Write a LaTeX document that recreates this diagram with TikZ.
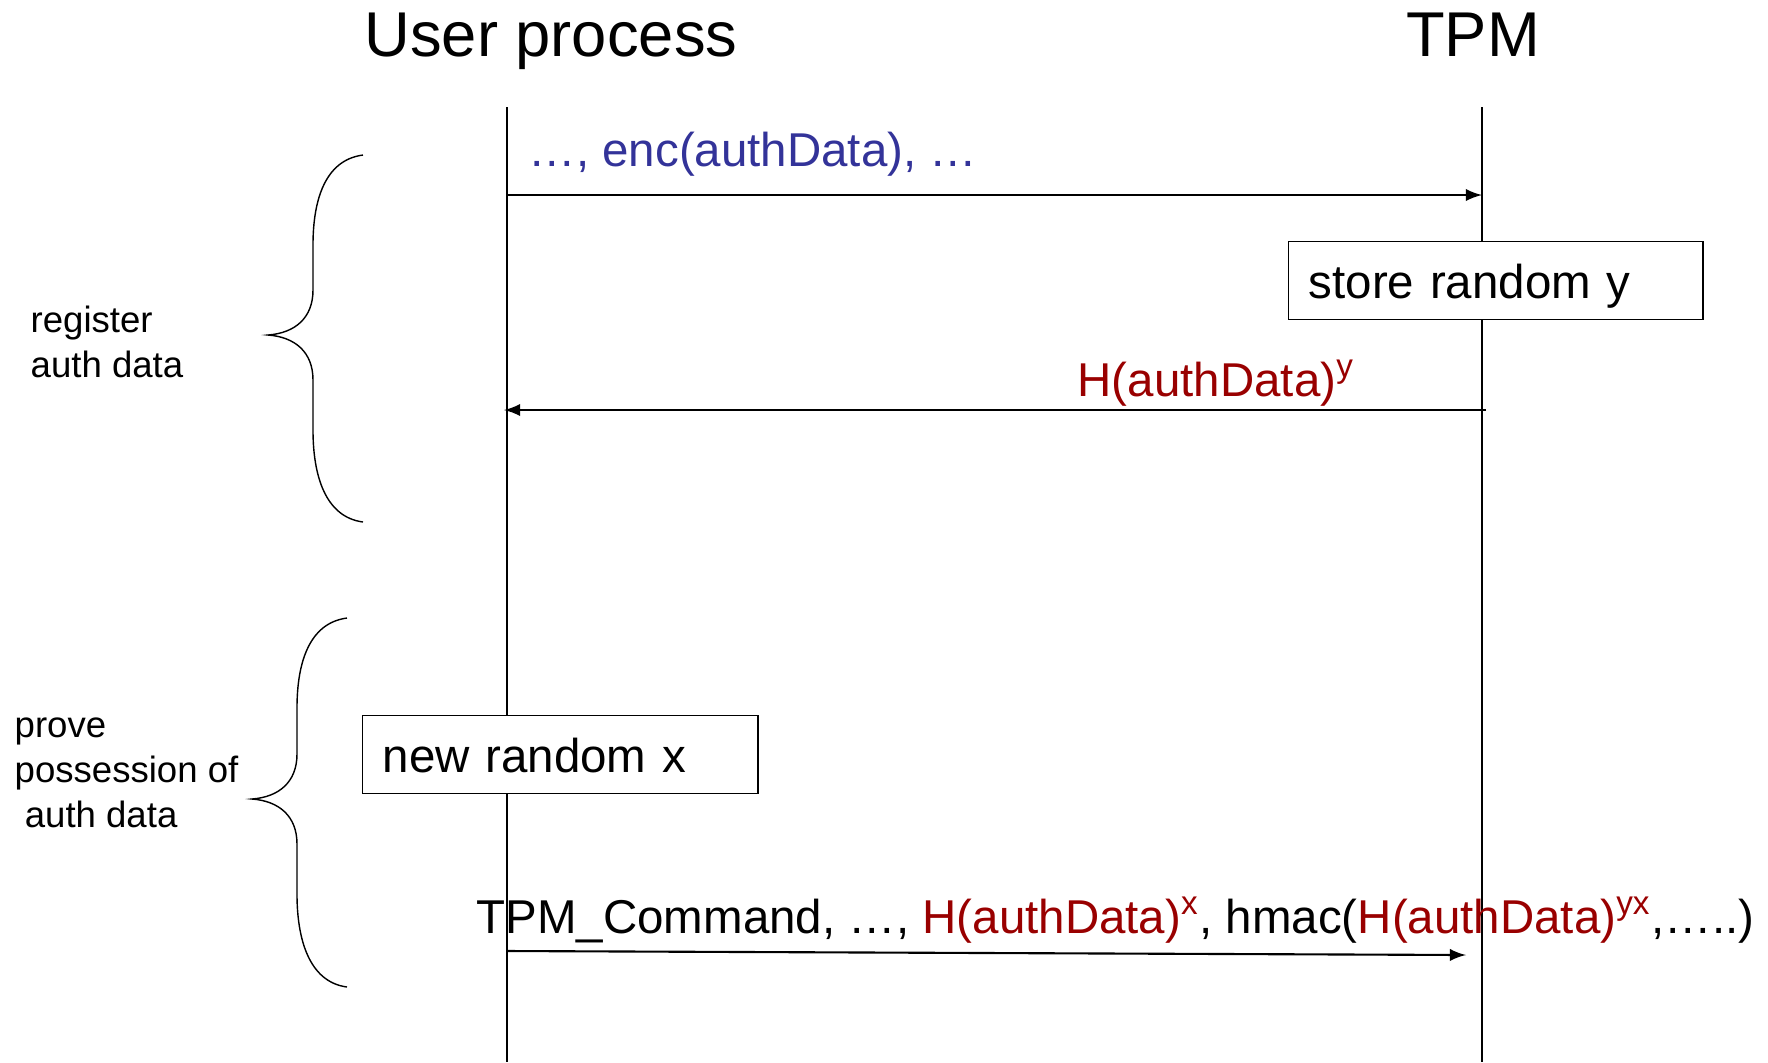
\documentclass[tikz,border=0pt]{standalone}
\usepackage{fontspec}
\setmainfont{Liberation Sans}
\usepackage{tikz}
\usetikzlibrary{shapes,arrows,positioning}
\usepackage{xcolor}
\definecolor{msgblue}{RGB}{51,51,153}
\definecolor{msgred}{RGB}{153,0,0}

\begin{document}
\begin{tikzpicture}[
    x=0.01cm, y=-0.01cm,
    actor/.style={font=\fontsize{18}{22}\selectfont, inner sep=0pt, anchor=base},
    msg/.style={font=\fontsize{13.5}{16}\selectfont, inner sep=0pt, anchor=base west},
    action/.style={rectangle, draw, fill=white, font=\fontsize{13.5}{16}\selectfont, align=left, inner xsep=0.2cm, inner ysep=0pt, minimum height=0.78cm, text height=0.46cm, text depth=0.1cm, anchor=north west},
    phase/.style={font=\fontsize{10.4}{12.8}\selectfont, align=left, anchor=west, inner sep=0pt},
    call/.style={-latex, semithick},
]
    \useasboundingbox (0,0) rectangle (1768,1062);

    % Actors
    \node[actor] (user) at (551,56) {User process};
    \node[actor] (tpm) at (1473,56) {TPM};

    % Lifelines
    \coordinate (userTop) at (507,107);
    \coordinate (userBot) at (507,1062);
    \coordinate (tpmTop) at (1482,107);
    \coordinate (tpmBot) at (1482,1062);
    \draw (userTop) -- (userBot);
    \draw (tpmTop) -- (tpmBot);

    % Register auth data
    \coordinate (regFrom) at (507,195);
    \coordinate (regTo) at (1482,195);
    \draw[call] (regFrom) -- (regTo);
    \node[msg, text=msgblue] (encmsg) at (528,166) {…, enc(authData), …};

    \node[action, text width=3.74cm] (store) at (1288,241) {store random y};

    \coordinate (ansFrom) at (1486,410);
    \coordinate (ansTo) at (504,410);
    \draw[call] (ansFrom) -- (ansTo);
    \node[msg, text=msgred] (hashy) at (1077,396) {H(authData)\textsuperscript{y}};

    % Prove possession
    \node[action, text width=3.55cm] (newx) at (362,715) {new random x};

    \coordinate (cmdFrom) at (507,951);
    \coordinate (cmdTo) at (1466,955);
    \draw[call] (cmdFrom) -- (cmdTo);
    \node[msg] (cmd) at (476,933) {TPM\_Command, …, \textcolor{msgred}{H(authData)\textsuperscript{x}}, hmac(\textcolor{msgred}{H(authData)\textsuperscript{yx}},…..)};

    % Phases
    \draw (363,155) .. controls (325,160) and (313,200) .. (313,245) -- (313,290)
        .. controls (313,318) and (295,333) .. (268,335)
        .. controls (295,337) and (313,352) .. (313,380) -- (313,430)
        .. controls (313,475) and (325,517) .. (363,522);
    \node[phase] (register) at (30,342) {register\\auth data};

    \draw (347,618) .. controls (309,623) and (297,663) .. (297,708) -- (297,754)
        .. controls (297,782) and (279,797) .. (252,799)
        .. controls (279,801) and (297,816) .. (297,844) -- (297,894)
        .. controls (297,939) and (309,982) .. (347,987);
    \node[phase] (prove) at (14,773) {prove\\possession of\\\ auth data};
\end{tikzpicture}
\end{document}
